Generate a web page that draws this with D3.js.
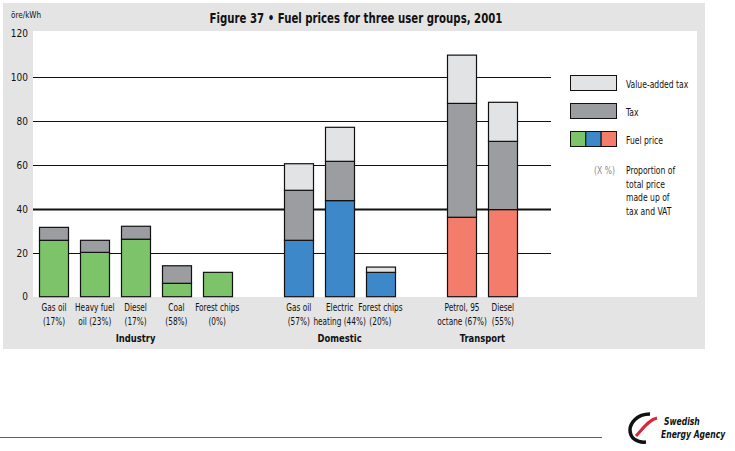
<!DOCTYPE html>
<html><head><meta charset="utf-8">
<script src="https://cdn.jsdelivr.net/npm/d3@7"></script>
<style>
html,body{margin:0;padding:0;background:#fff;}
svg{display:block;}
text{font-family:'Liberation Sans Narrow','DejaVu Sans Condensed','DejaVu Sans',sans-serif;font-stretch:condensed;fill:#111;}
</style></head>
<body>
<script>
// ---------- data ----------
const categories = ["Gas oil","Heavy fuel oil","Diesel","Coal","Forest chips","Gas oil","Electric heating","Forest chips","Petrol, 95 octane","Diesel"];
const labelLine1 = ["Gas oil","Heavy fuel","Diesel","Coal","Forest chips","Gas oil","Electric","Forest chips","Petrol, 95","Diesel"];
const labelLine2 = ["(17%)","oil (23%)","(17%)","(58%)","(0%)","(57%)","heating (44%)","(20%)","octane (67%)","(55%)"];
const userGroup = ["Industry","Industry","Industry","Industry","Industry","Domestic","Domestic","Domestic","Transport","Transport"];
const slot = [0,1,2,3,4,6,7,8,10,11];
const fuelPrice = [25.7,20.2,26.2,6.1,11.1,25.7,43.8,11.1,36.2,39.7];
const tax       = [5.9,5.5,5.9,8.0,0,22.8,17.9,0,51.9,31.1];
const vat       = [0,0,0,0,0,12.1,15.5,2.4,22.0,17.8];
const yTicks = [0,20,40,60,80,100,120];
const groupNames = ["Industry","Domestic","Transport"];
const groupColors = {Industry:"#7cc36a", Domestic:"#3d88c9", Transport:"#f47c6a"};
const taxColor = "#9c9da0", vatColor = "#e2e3e4";

const W = 735, H = 451;
const svg = d3.select("body").append("svg").attr("width", W).attr("height", H);

// condensed text helper
function ctext(g, tx, ty, str, size, opts={}){
  const t = g.append("text")
    .attr("transform",`translate(${tx},${ty}) scale(${opts.sx||0.85},1)`)
    .attr("text-anchor",opts.anchor||"start")
    .style("font-size",size+"px").text(str);
  if(opts.bold) t.style("font-weight","bold");
  if(opts.italic) t.style("font-style","italic");
  if(opts.fill) t.style("fill",opts.fill);
  return t;
}

// panel
svg.append("rect").attr("x",3).attr("y",3).attr("width",702).attr("height",346).attr("fill","#e4e4e4");
svg.append("rect").attr("x",33).attr("y",31).attr("width",664).attr("height",266).attr("fill","#fff");

const y = d3.scaleLinear().domain([0,120]).range([296.7,33.4]);
const x = d3.scaleBand().domain(d3.range(12)).range([39.3,517.5]).paddingInner(0.28).paddingOuter(0);

// gridlines
svg.append("g").selectAll("line").data(yTicks.filter(d=>d>0 && d<120)).join("line")
  .attr("x1",33).attr("x2",551).attr("y1",d=>Math.round(y(d))+0.5).attr("y2",d=>Math.round(y(d))+0.5)
  .attr("stroke","#111").attr("stroke-width",d=>d===40?2:1);

// y axis
const yAxis = d3.axisLeft(y).tickValues(yTicks).tickSize(0).tickPadding(0);
const ga = svg.append("g").attr("transform","translate(28,0)").call(yAxis);
ga.select(".domain").remove();
ga.selectAll("text").style("font-size","10px").attr("fill","#111")
  .style("font-family","'DejaVu Sans Condensed','DejaVu Sans',sans-serif").style("font-stretch","condensed");

ctext(svg, 11, 18, "öre/kWh", 9.5);

// stacked bars
const rows = categories.map((c,i)=>({i, fuel:fuelPrice[i], tax:tax[i], vat:vat[i]}));
const stack = d3.stack().keys(["fuel","tax","vat"])(rows);
const bars = svg.append("g");
stack.forEach(layer=>{
  bars.selectAll(null).data(layer.filter(d=>d[1]-d[0]>0)).join("rect")
    .attr("x",d=>Math.round(x(slot[d.data.i]))+0.5)
    .attr("width",Math.round(x.bandwidth()))
    .attr("y",d=>y(d[1]))
    .attr("height",d=>y(d[0])-y(d[1]))
    .attr("fill",d=>layer.key==="fuel"?groupColors[userGroup[d.data.i]]:layer.key==="tax"?taxColor:vatColor)
    .attr("stroke","#111").attr("stroke-width",1.2);
});

// category labels
const lab = svg.append("g");
categories.forEach((c,i)=>{
  const cx = x(slot[i]) + x.bandwidth()/2;
  ctext(lab, cx, 311, labelLine1[i], 10, {anchor:"middle", sx:0.82});
  ctext(lab, cx, 325, labelLine2[i], 10, {anchor:"middle", sx:0.82});
});
// group labels
groupNames.forEach(g=>{
  const idx = slot.filter((s,i)=>userGroup[i]===g);
  const cx = (x(d3.min(idx)) + x(d3.max(idx)) + x.bandwidth())/2;
  ctext(svg, cx, 342, g, 11, {anchor:"middle", bold:true, sx:0.85});
});

// title
ctext(svg, 356, 23, "Figure 37 \u2022 Fuel prices for three user groups, 2001", 14.5, {anchor:"middle", bold:true, sx:0.78});

// legend
const lg = svg.append("g");
lg.append("rect").attr("x",570.5).attr("y",75.5).attr("width",46).attr("height",15).attr("fill",vatColor).attr("stroke","#111");
lg.append("rect").attr("x",570.5).attr("y",103.5).attr("width",46).attr("height",15).attr("fill",taxColor).attr("stroke","#111");
groupNames.forEach((g,k)=>{
  lg.append("rect").attr("x",570.5+k*15.33).attr("y",131.5).attr("width",15.33).attr("height",15)
    .attr("fill",groupColors[g]).attr("stroke","#111");
});
const legTxt = [["Value-added tax",88],["Tax",116],["Fuel price",144]];
legTxt.forEach(([t,yy])=>ctext(lg, 626, yy, t, 10, {sx:0.85}));
ctext(lg, 615, 174, "(X %)", 10, {anchor:"end", fill:"#888", sx:0.85});
["Proportion of","total price","made up of","tax and VAT"].forEach((t,k)=>
  ctext(lg, 626, 174+k*13.7, t, 10, {sx:0.85}));

// footer
svg.append("line").attr("x1",0).attr("x2",602).attr("y1",437.5).attr("y2",437.5).attr("stroke","#d02a4a").attr("stroke-width",1.2);
const logo = svg.append("g");
logo.append("path").attr("d","M650,414 C636,414 630,424 630,430 C630,438 637,443 646,442")
  .attr("fill","none").attr("stroke","#111").attr("stroke-width",3.5);
logo.append("path").attr("d","M636,436 C642,430 648,420 657,418")
  .attr("fill","none").attr("stroke","#d8263a").attr("stroke-width",3);
ctext(logo, 664, 425, "Swedish", 10, {bold:true, italic:true, sx:0.85});
ctext(logo, 661, 438, "Energy Agency", 10, {bold:true, italic:true, sx:0.85});
</script>
</body></html>
